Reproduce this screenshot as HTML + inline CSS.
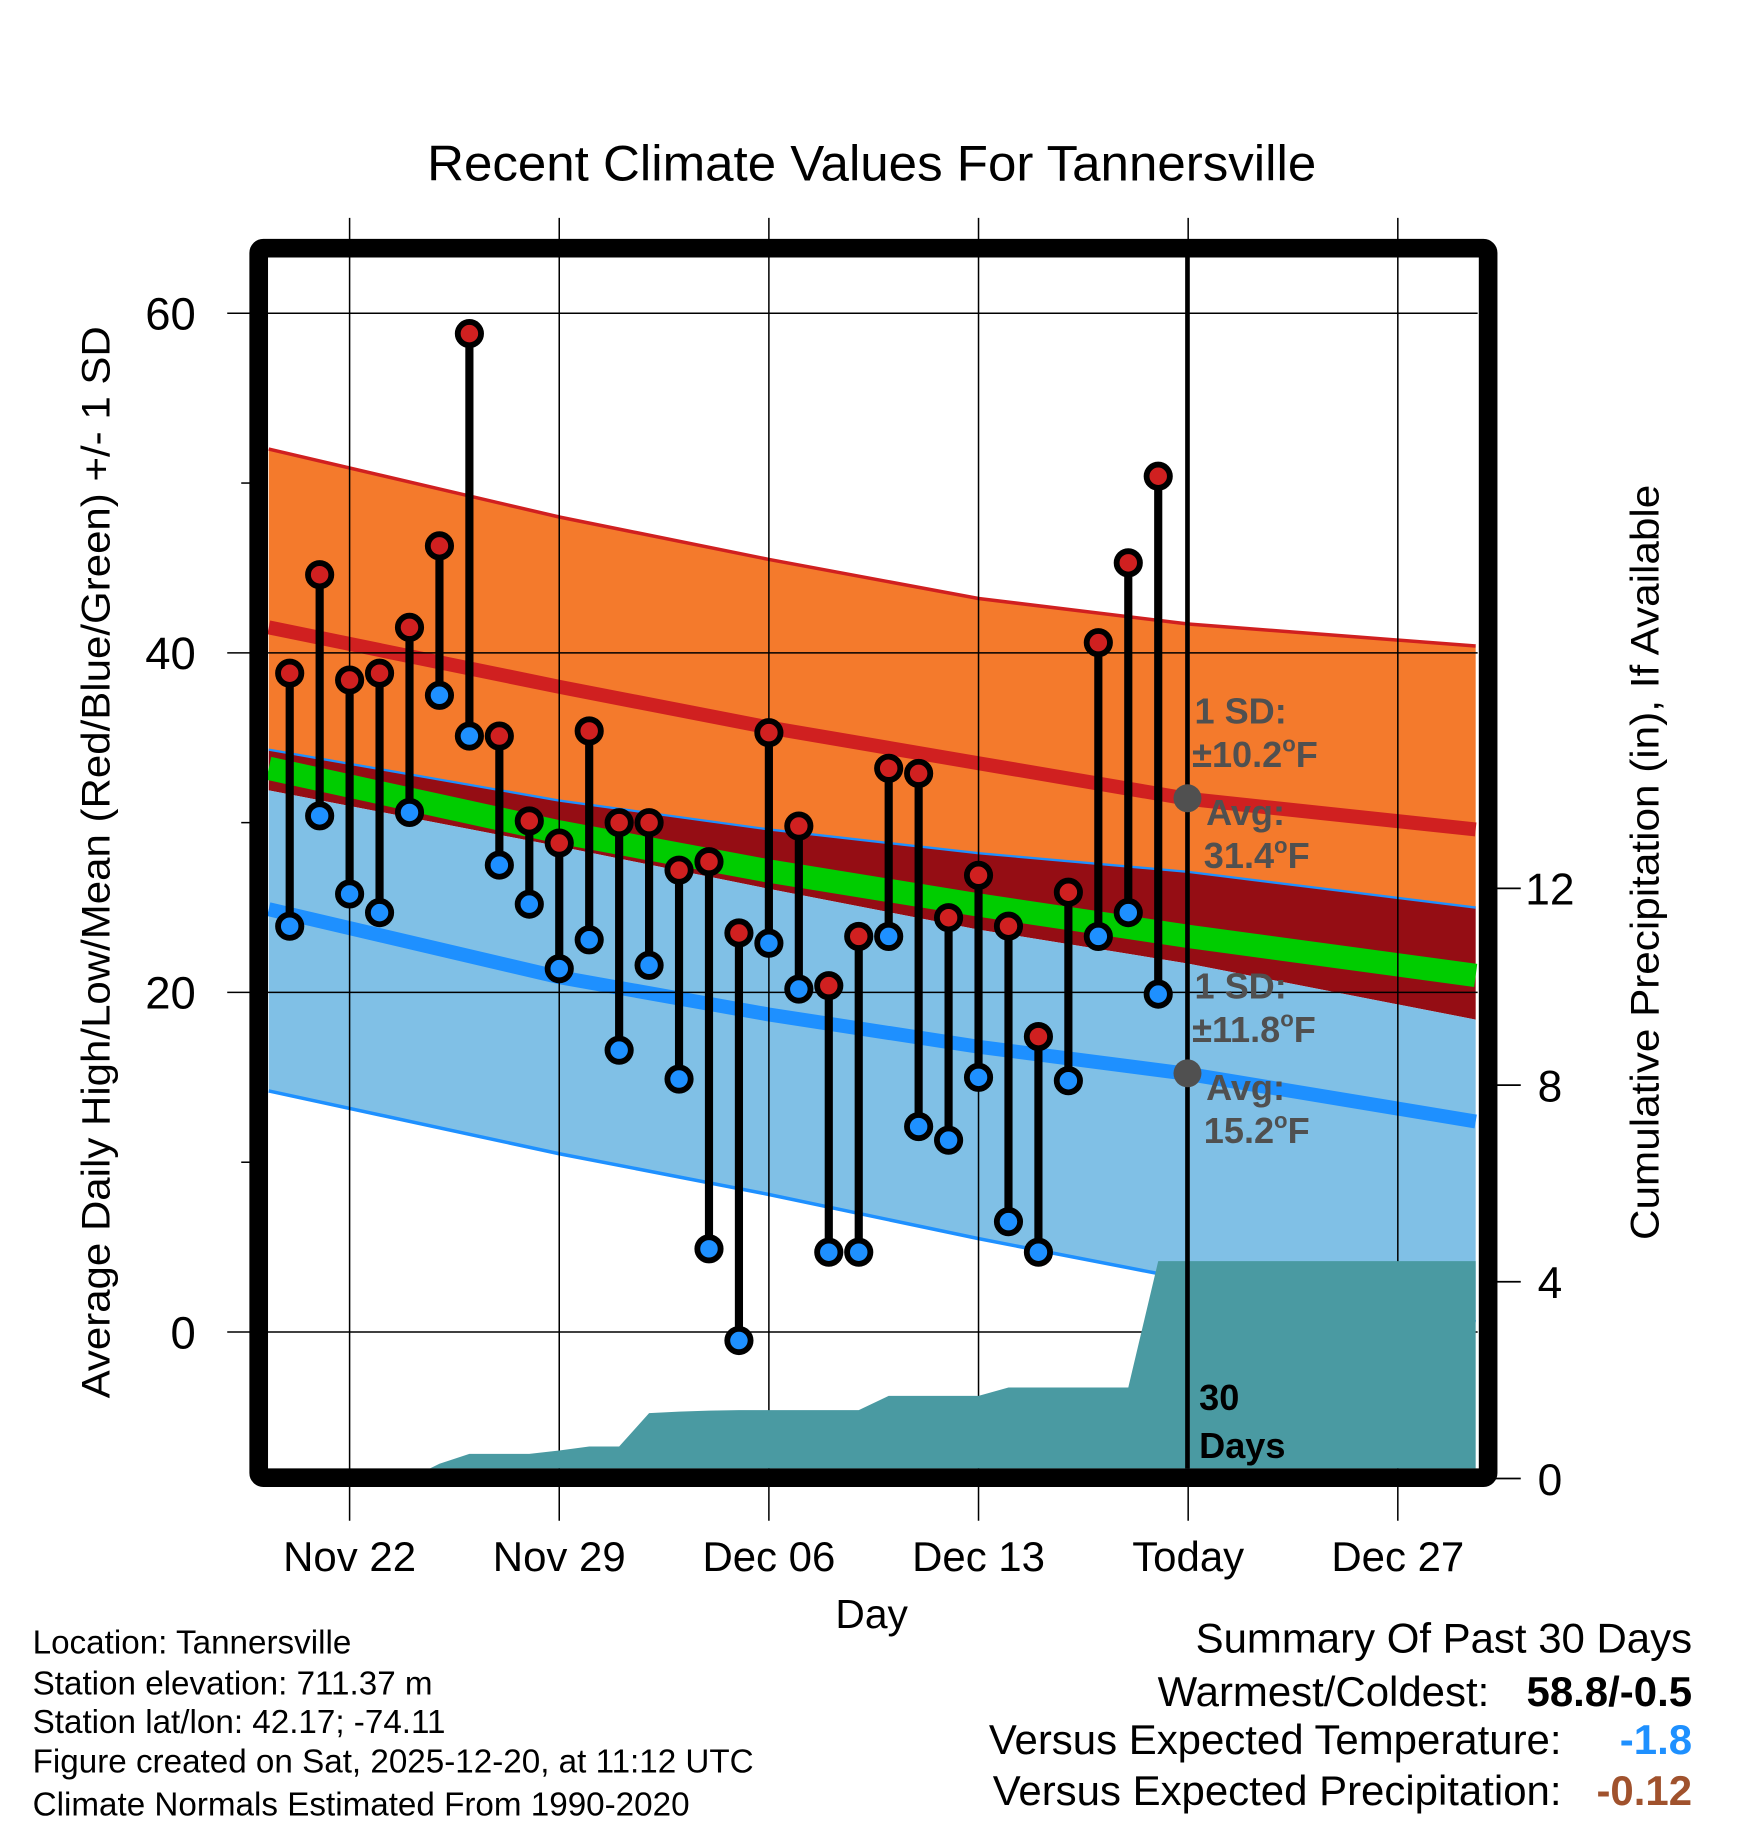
<!DOCTYPE html>
<html><head><meta charset="utf-8"><style>
html,body{margin:0;padding:0;background:#fff;}
svg{display:block;font-family:"Liberation Sans",Arial,sans-serif;}
</style></head><body>
<svg id="chart" width="1748" height="1828" viewBox="0 0 1500 1568.6" preserveAspectRatio="none" xmlns="http://www.w3.org/2000/svg">
<defs><clipPath id="plotclip"><rect x="230" y="221" width="1039" height="1039"/></clipPath></defs>
<text x="748" y="155" font-size="43" text-anchor="middle" textLength="763" lengthAdjust="spacingAndGlyphs">Recent Climate Values For Tannersville</text>
<g id="bands" clip-path="url(#plotclip)"></g>
<g id="grid"></g>
<g id="precip" clip-path="url(#plotclip)"></g>
<g id="marks"></g>
<line x1="1019" y1="221" x2="1019" y2="1260" stroke="#000" stroke-width="4"/>
<rect x="222" y="213" width="1055" height="1055" fill="none" stroke="#000" stroke-width="16" rx="4"/>
<g id="axes"></g>
<g font-weight="bold" fill="#505050" font-size="31">
<text x="1025" y="621">1 SD:</text>
<text x="1023" y="658">±10.2<tspan font-size="19" dy="-13">o</tspan><tspan dy="13">F</tspan></text>
<circle cx="1019" cy="685" r="12"/>
<text x="1035" y="708">Avg:</text>
<text x="1033" y="745">31.4<tspan font-size="19" dy="-13">o</tspan><tspan dy="13">F</tspan></text>
<text x="1025" y="857">1 SD:</text>
<text x="1023" y="894">±11.8<tspan font-size="19" dy="-13">o</tspan><tspan dy="13">F</tspan></text>
<circle cx="1019" cy="921" r="12"/>
<text x="1035" y="944">Avg:</text>
<text x="1033" y="981">15.2<tspan font-size="19" dy="-13">o</tspan><tspan dy="13">F</tspan></text>
</g>
<g font-weight="bold" font-size="31">
<text x="1029" y="1210">30</text><text x="1029" y="1251">Days</text></g>
<text x="748" y="1397" font-size="35" text-anchor="middle">Day</text>
<text transform="translate(94,740) rotate(-90)" font-size="34" text-anchor="middle" textLength="920" lengthAdjust="spacingAndGlyphs">Average Daily High/Low/Mean (Red/Blue/Green) +/- 1 SD</text>
<text transform="translate(1423,740) rotate(-90)" font-size="34" text-anchor="middle" textLength="648" lengthAdjust="spacingAndGlyphs">Cumulative Precipitation (in), If Available</text>
<g font-size="28.5">
<text x="28" y="1419">Location: Tannersville</text>
<text x="28" y="1454">Station elevation: 711.37 m</text>
<text x="28" y="1487">Station lat/lon: 42.17; -74.11</text>
<text x="28" y="1521">Figure created on Sat, 2025-12-20, at 11:12 UTC</text>
<text x="28" y="1558">Climate Normals Estimated From 1990-2020</text>
</g>
<g font-size="36">
<text x="1452" y="1418" text-anchor="end">Summary Of Past 30 Days</text>
<text x="1278" y="1464" text-anchor="end">Warmest/Coldest:</text>
<text x="1452" y="1464" text-anchor="end" font-weight="bold">58.8/-0.5</text>
<text x="1340" y="1505" text-anchor="end">Versus Expected Temperature:</text>
<text x="1452" y="1505" text-anchor="end" font-weight="bold" fill="#1e90ff">-1.8</text>
<text x="1340" y="1549" text-anchor="end">Versus Expected Precipitation:</text>
<text x="1452" y="1549" text-anchor="end" font-weight="bold" fill="#a0522d">-0.12</text>
</g>
</svg>
<script>
// Data (day offset 0 = Nov 22)
const obsDays = [-2,-1,0,1,2,3,4,5,6,7,8,9,10,11,12,13,14,15,16,17,18,19,20,21,22,23,24,25,26,27];
const highs = [38.8,44.6,38.4,38.8,41.5,46.3,58.8,35.1,30.1,28.8,35.4,30.0,30.0,27.2,27.7,23.5,35.3,29.8,20.4,23.3,33.2,32.9,24.4,26.9,23.9,17.4,25.9,40.6,45.3,50.4];
const lows = [23.9,30.4,25.8,24.7,30.6,37.5,35.1,27.5,25.2,21.4,23.1,16.6,21.6,14.9,4.9,-0.5,22.9,20.2,4.7,4.7,23.3,12.1,11.3,15.0,6.5,4.7,14.8,23.3,24.7,19.9];
const precipCum = [0,0,0,0,0,0.3,0.5,0.5,0.5,0.57,0.65,0.65,1.33,1.36,1.38,1.39,1.39,1.39,1.39,1.39,1.68,1.68,1.68,1.68,1.85,1.85,1.85,1.85,1.85,4.42];
const normDays = [-2.7,7,14,21,28,37.6];
const highPlus = [52.0,48.0,45.5,43.2,41.7,40.4];
const highAvg = [41.5,38.0,35.6,33.5,31.4,29.6];
const highMinus = [34.3,31.3,29.6,28.2,27.1,25.0];
const lowTop = [31.9,28.6,26.1,23.7,21.7,18.4];
const lowAvg = [24.9,20.9,18.7,16.8,15.2,12.4];
const lowMinus = [14.2,10.5,8.1,5.5,3.1,0.6];
const xTickDays = [0,7,14,21,28,35];
const xTickLabels = ["Nov 22","Nov 29","Dec 06","Dec 13","Today","Dec 27"];
const yTicks = [0,20,40,60];
const yMinor = [10,30,50];
const pTicks = [0,4,8,12];

const X = d => 300 + d*25.7;
const Y = t => 1143 - t*14.57;
const P = p => 1268.7 - p*42.2;
const NS = "http://www.w3.org/2000/svg";
function mk(tag, attrs, parent){const e=document.createElementNS(NS,tag);for(const k in attrs)e.setAttribute(k,attrs[k]);parent.appendChild(e);return e;}
function pts(arr){return normDays.map((d,i)=>X(d)+","+Y(arr[i])).join(" ");}
function rev(arr){return normDays.map((d,i)=>X(d)+","+Y(arr[i])).reverse().join(" ");}
const bands=document.getElementById('bands');
let e;
e=mk('polygon',{points:pts(highPlus)+" "+rev(highMinus),fill:'#f47a2c'},bands);


e=mk('polygon',{points:pts(highMinus)+" "+rev(lowTop),fill:'#950d14'},bands);


e=mk('polygon',{points:pts(lowTop)+" "+rev(lowMinus),fill:'#80c0e6'},bands);


const mean = highAvg.map((h,i)=>(h+lowAvg[i])/2);
e=mk('polyline',{points:pts(mean),fill:'none',stroke:'#00cc00','stroke-width':20},bands);


e=mk('polyline',{points:pts(highPlus),fill:'none',stroke:'#d02020','stroke-width':3},bands);


e=mk('polyline',{points:pts(highMinus),fill:'none',stroke:'#1e90ff','stroke-width':2},bands);


e=mk('polyline',{points:pts(highAvg),fill:'none',stroke:'#d02020','stroke-width':12},bands);


e=mk('polyline',{points:pts(lowAvg),fill:'none',stroke:'#1e90ff','stroke-width':12},bands);


e=mk('polyline',{points:pts(lowMinus),fill:'none',stroke:'#1e90ff','stroke-width':3},bands);



const grid=document.getElementById('grid');
xTickDays.forEach(d=>{
  const l=mk('line',{x1:X(d),x2:X(d),y1:187,y2:1305,stroke:'#000','stroke-width':1.3},grid);
  
  
});
yTicks.forEach(t=>{
  const l=mk('line',{x1:195,x2:1268,y1:Y(t),y2:Y(t),stroke:'#000','stroke-width':1.3},grid);
  
  
});

const pg=document.getElementById('precip');
let pp=[X(-2.7)+","+P(0)];
obsDays.forEach((d,i)=>pp.push(X(d)+","+P(precipCum[i])));
pp.push(X(37.6)+","+P(precipCum[precipCum.length-1]));
pp.push(X(37.6)+","+P(-1)); pp.push(X(-2.7)+","+P(-1));
e=mk('polygon',{points:pp.join(" "),fill:'#4a9aa2'},pg);



const mg=document.getElementById('marks');
obsDays.forEach((d,i)=>{
  const s=mk('line',{x1:X(d),x2:X(d),y1:Y(highs[i]),y2:Y(lows[i]),stroke:'#000','stroke-width':7},mg);
  
  
});
obsDays.forEach((d,i)=>{
  const h=mk('circle',{cx:X(d),cy:Y(highs[i]),r:10,fill:'#d02020',stroke:'#000','stroke-width':5},mg);
  
  
  const lo=mk('circle',{cx:X(d),cy:Y(lows[i]),r:10,fill:'#1e90ff',stroke:'#000','stroke-width':5},mg);
  
  
});

const ax=document.getElementById('axes');
yTicks.forEach(t=>{
  const tx=mk('text',{x:168,y:Y(t)+14,'font-size':39,'text-anchor':'end'},ax);
  tx.textContent=t;
  
  
});
yMinor.forEach(t=>{
  const l=mk('line',{x1:207,x2:218,y1:Y(t),y2:Y(t),stroke:'#000','stroke-width':1.3},ax);
  
  
});
xTickDays.forEach((d,i)=>{
  const tx=mk('text',{x:X(d),y:1348,'font-size':36,'text-anchor':'middle'},ax);
  tx.textContent=xTickLabels[i];
  
  
});
pTicks.forEach(p=>{
  const l=mk('line',{x1:1282,x2:1305,y1:P(p),y2:P(p),stroke:'#000','stroke-width':1.5},ax);
  
  
  const tx=mk('text',{x:1330,y:P(p)+14,'font-size':38,'text-anchor':'middle'},ax);
  tx.textContent=p;
  
  
});
</script>
</body></html>
